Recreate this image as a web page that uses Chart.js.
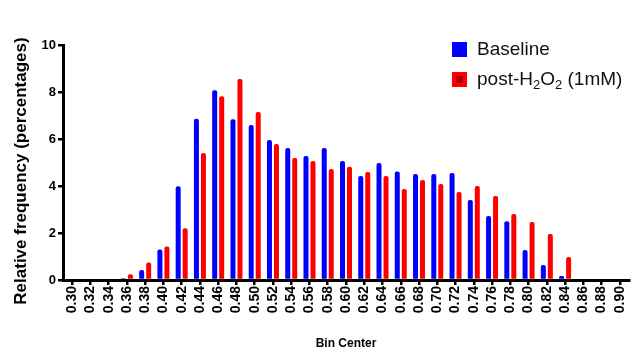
<!DOCTYPE html>
<html>
<head>
<meta charset="utf-8">
<script src="https://cdn.jsdelivr.net/npm/chart.js@4"></script>
<style>
    body { margin: 0; background: #fff; font-family: Arial, "Liberation Sans", sans-serif; }
    #wrap { position: relative; width: 632px; height: 352px; }
    .legend-item { position: absolute; left: 452px; display: flex; align-items: center; font-size: 19px; color: #111; }
    .swatch { width: 15px; height: 15px; box-sizing: border-box; margin-right: 10px; }
    sub { font-size: 13px; vertical-align: -4px; line-height: 0; }
</style>
</head>
<body>
<div id="wrap">
    <canvas id="chart" width="632" height="352"></canvas>
    <div class="legend-item" style="top: 38px;">
        <span class="swatch" style="background:#0000ff;"></span><span>Baseline</span>
    </div>
    <div class="legend-item" style="top: 68px;">
        <span class="swatch" style="background:#b00000; border:4px solid #ff0000;"></span><span>post-H<sub>2</sub>O<sub>2</sub> (1mM)</span>
    </div>
</div>
<script>
// Bin centers (x categories)
const binCenters = ['0.30', '0.32', '0.34', '0.36', '0.38', '0.40', '0.42', '0.44', '0.46', '0.48',
    '0.50', '0.52', '0.54', '0.56', '0.58', '0.60', '0.62', '0.64', '0.66', '0.68',
    '0.70', '0.72', '0.74', '0.76', '0.78', '0.80', '0.82', '0.84', '0.86', '0.88', '0.90'];

// Relative frequency (%) per bin
const baseline = [0, 0, 0, 0.07, 0.43, 1.3, 3.99, 6.86, 8.07, 6.84,
    6.6, 5.96, 5.62, 5.28, 5.62, 5.06, 4.43, 4.98, 4.62, 4.51,
    4.51, 4.55, 3.4, 2.72, 2.5, 1.28, 0.64, 0.17, 0, 0, 0];
const postH2O2 = [0, 0, 0, 0.24, 0.75, 1.43, 2.2, 5.4, 7.82, 8.55,
    7.15, 5.79, 5.19, 5.06, 4.72, 4.82, 4.6, 4.43, 3.87, 4.26,
    4.09, 3.74, 4.0, 3.57, 2.81, 2.47, 1.96, 0.98, 0, 0, 0];

const yTicks = [0, 2, 4, 6, 8, 10];
const yTitle = 'Relative frequency (percentages)';
const xTitle = 'Bin Center';

const FONT = 'Arial, "Liberation Sans", sans-serif';

// Rotated y axis title, drawn a bit below the axis middle as in the source figure
const yTitlePlugin = {
    id: 'yTitle',
    afterDraw(chart) {
        const ctx = chart.ctx;
        ctx.save();
        ctx.translate(21, 171);
        ctx.rotate(-Math.PI / 2);
        ctx.font = 'bold 17px ' + FONT;
        ctx.fillStyle = '#000';
        ctx.textAlign = 'center';
        ctx.textBaseline = 'middle';
        ctx.fillText(yTitle, 0, 0);
        ctx.restore();
    }
};

const barStyle = {
    categoryPercentage: 0.767,
    barPercentage: 0.714,
    borderRadius: { topLeft: 2, topRight: 2 },
    borderSkipped: 'bottom'
};

new Chart(document.getElementById('chart'), {
    type: 'bar',
    data: {
        labels: binCenters,
        datasets: [
            Object.assign({ label: 'Baseline', data: baseline, backgroundColor: '#0000ff' }, barStyle),
            Object.assign({ label: 'post-H2O2 (1mM)', data: postH2O2, backgroundColor: '#ff0000' }, barStyle)
        ]
    },
    options: {
        responsive: false,
        animation: false,
        layout: { padding: { top: 45, right: 3, left: 0, bottom: 0 } },
        plugins: {
            legend: { display: false },
            tooltip: { enabled: false }
        },
        scales: {
            x: {
                grid: {
                    display: true,
                    drawOnChartArea: false,
                    offset: false,
                    tickLength: 5,
                    lineWidth: 2.5,
                    color: '#000'
                },
                border: { display: true, width: 3, color: '#000' },
                ticks: {
                    color: '#000',
                    font: { family: FONT, size: 14, weight: 'bold' },
                    minRotation: 90,
                    maxRotation: 90,
                    padding: 1,
                    autoSkip: false
                },
                title: {
                    display: true,
                    text: xTitle,
                    color: '#000',
                    font: { family: FONT, size: 12, weight: 'bold' },
                    padding: { top: 0, bottom: 1 }
                },
                afterFit(scale) {
                    scale.height = 72;
                    scale.paddingLeft = 0;
                    scale.paddingRight = 0;
                }
            },
            y: {
                min: 0,
                max: 10,
                grid: {
                    display: true,
                    drawOnChartArea: false,
                    tickLength: 5,
                    lineWidth: 2.5,
                    color: '#000'
                },
                border: { display: true, width: 3, color: '#000' },
                afterBuildTicks(scale) { scale.ticks = yTicks.map(v => ({ value: v })); },
                ticks: {
                    color: '#000',
                    font: { family: FONT, size: 13, weight: 'bold' },
                    padding: 2
                },
                afterFit(scale) { scale.width = 63; }
            }
        }
    },
    plugins: [yTitlePlugin]
});
</script>
</body>
</html>
